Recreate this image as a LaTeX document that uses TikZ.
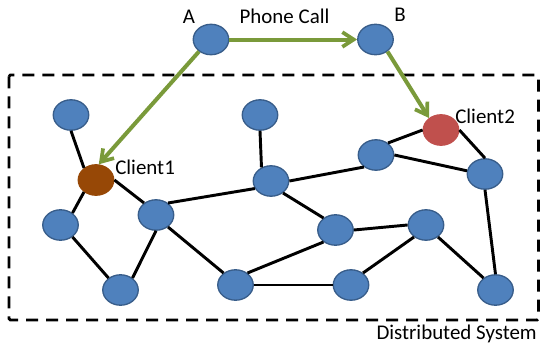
\documentclass[tikz,border=0pt]{standalone}
\usepackage{fontspec}
\setmainfont{Carlito}
\usetikzlibrary{arrows.meta,shapes.geometric}
\definecolor{nodefill}{HTML}{4F81BD}
\definecolor{nodeline}{HTML}{385D8A}
\definecolor{callgreen}{HTML}{7A9A3A}
\definecolor{clientbrown}{HTML}{974806}
\definecolor{clientred}{HTML}{C0504D}
\tikzset{
  x=0.75pt,y=-0.75pt,
  peer/.style={ellipse,draw=nodeline,line width=1pt,fill=nodefill,minimum width=26.6pt,minimum height=22.8pt,inner sep=0pt},
  clientbrownnode/.style={peer,draw=clientbrown,fill=clientbrown},
  clientrednode/.style={peer,draw=clientred,fill=clientred},
  link/.style={line width=2.2pt,black},
  call/.style={line width=3pt,callgreen,-{Straight Barb[length=8.5pt,width=11pt,line width=2.8pt]}},
  lbl/.style={inner sep=0pt,font=\fontsize{15.7pt}{18pt}\selectfont,text=black},
  region/.style={line width=2.2pt,dash pattern=on 9pt off 6pt,rounded corners=1pt}
}
\begin{document}
\begin{tikzpicture}
\useasboundingbox (0,0) rectangle (540,343);
\draw[region] (9,75) rectangle (538.5,320);
\node[peer] (A) at (211,39.5) {};
\node[peer] (B) at (375.5,39.5) {};
\node[peer] (n1) at (71,115) {};
\node[clientbrownnode] (c1) at (96,180) {};
\node[peer] (n2) at (60.5,225) {};
\node[peer] (n3) at (120.5,290) {};
\node[peer] (n4) at (156,215) {};
\node[peer] (n5) at (260,115) {};
\node[peer] (n6) at (271,181) {};
\node[peer] (n7) at (235.5,285) {};
\node[peer] (n8) at (335.5,230) {};
\node[peer] (n9) at (351,285) {};
\node[peer] (n10) at (426,225) {};
\node[peer] (n11) at (495.5,290) {};
\node[peer] (n12) at (485,174) {};
\node[peer] (n13) at (376,155) {};
\node[clientrednode] (c2) at (441,130) {};
\draw[link] (n1.south) -- (c1.135);
\draw[link] (c1.225) -- (n2.45);
\draw[link] (c1.east) -- (n4.135);
\draw[link] (n2.-45) -- (n3.135);
\draw[link] (n3.45) -- (n4.south);
\draw[link] (n4.45) -- (n6.205);
\draw[link] (n4.-45) -- (n7.135);
\draw[link] (n5.south) -- (n6.125);
\draw[link] (n6.east) -- (n13.225);
\draw[link] (n6.-45) -- (n8.135);
\draw[link] (n7.45) -- (n8.225);
\draw[link] (n7.east) -- (n9.west);
\draw[link] (n8.east) -- (n10.west);
\draw[link] (n9.45) -- (n10.225);
\draw[link] (n10.-45) -- (n11.135);
\draw[link] (n11.north) -- (n12.south);
\draw[link] (n12.170) -- (n13.east);
\draw[link] (n12.north) -- (c2.east);
\draw[link] (n13.45) -- (c2.west);
\draw[call] (A.east) -- (B.west);
\draw[call] (A.225) -- (c1.80);
\draw[call] (B.-45) -- (c2.135);
\node[lbl] (la) at (189,17) {A};
\node[lbl] (lb) at (400,14.5) {B};
\node[lbl] (lp) at (284.5,16) {Phone Call};
\node[lbl,anchor=west] (l1) at (115,167) {Client1};
\node[lbl,anchor=west] (l2) at (455,116.5) {Client2};
\node[lbl,anchor=east] (ld) at (537,334) {Distributed System};
\end{tikzpicture}
\end{document}
